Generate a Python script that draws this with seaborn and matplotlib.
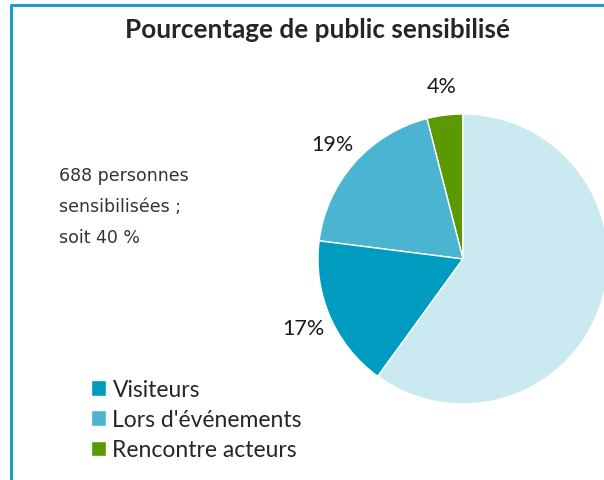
import matplotlib
matplotlib.use('Agg')
import matplotlib.pyplot as plt
import seaborn as sns

sns.set_style('white')
plt.rcParams['font.family'] = ['Lato', 'DejaVu Sans']

# slices drawn counter-clockwise from the top
categories = ['Rencontre acteurs', "Lors d'événements", 'Visiteurs', 'Non sensibilisé']
shares = [4, 19, 17, 60]
colors = ['#5a9a00', '#4bb5d1', '#009cc0', '#cbe9f0']
legend_order = ['Visiteurs', "Lors d'événements", 'Rencontre acteurs']
title = 'Pourcentage de public sensibilisé'
note = '688 personnes\nsensibilisées ;\nsoit 40 %'

fig = plt.figure(figsize=(6.04, 4.81), dpi=100)
ax = fig.add_axes([0, 0, 1, 1])


def pct_label(p):
    return '' if p > 50 else f'{p:.0f}%'


wedges, _, autotexts = ax.pie(shares, colors=colors, startangle=90, counterclock=True,
                              center=(463, 221), radius=145, autopct=pct_label,
                              pctdistance=1.2, frame=True,
                              textprops={'fontsize': 15.5, 'color': '#1a1a1a'})
ax.set_xlim(0, 604)
ax.set_ylim(0, 481)
ax.set_aspect('equal')
ax.axis('off')

# frame lines (top and left)
fig.add_artist(plt.Line2D([0.0182, 1.0], [0.9865, 0.9865], transform=fig.transFigure,
                          color='#1aa0c8', lw=2.2))
fig.add_artist(plt.Line2D([0.0182, 0.0182], [0.0, 0.9865], transform=fig.transFigure,
                          color='#1aa0c8', lw=2.2))

fig.text(0.525, 0.937, title, ha='center', va='center', fontsize=18.8, fontweight='bold')
fig.text(0.097, 0.57, note, ha='left', va='center', fontsize=12.5, linespacing=1.95,
         family='DejaVu Sans', color='#333333')

handles = [wedges[categories.index(c)] for c in legend_order]
fig.legend(handles, legend_order, loc='lower left', bbox_to_anchor=(0.135, 0.022),
           frameon=False, fontsize=16.5, handlelength=0.65, handleheight=0.65,
           handletextpad=0.3, labelspacing=0.4, borderaxespad=0)

fig.savefig('out.png', dpi=100)
